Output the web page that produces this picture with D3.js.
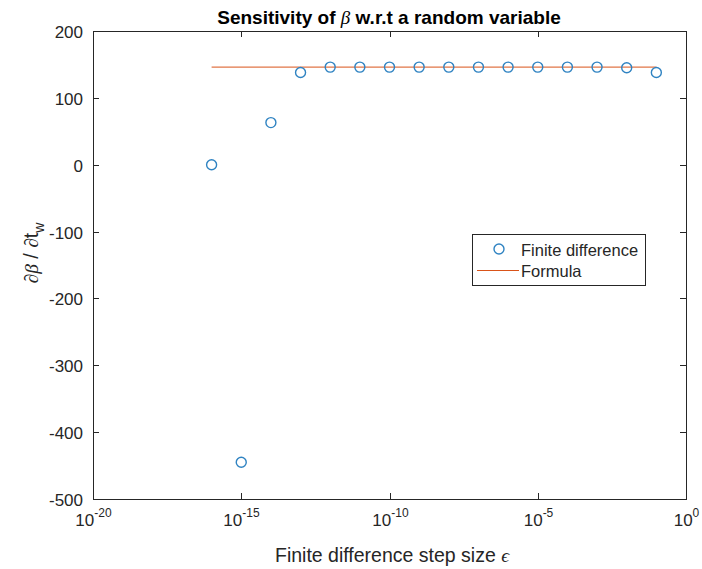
<!DOCTYPE html>
<html>
<head>
<meta charset="utf-8">
<script src="https://cdn.jsdelivr.net/npm/d3@7"></script>
<style>
  body { margin: 0; background: #fff; }
  svg text { font-family: "Liberation Sans", Arial, Helvetica, sans-serif; fill: #262626; }
</style>
</head>
<body>
<svg id="chart" width="702" height="569"></svg>
<script>
// Finite-difference step sizes (epsilon) and the resulting sensitivity estimates
const stepExponents = [-16, -15, -14, -13, -12, -11, -10, -9, -8, -7, -6, -5, -4, -3, -2, -1];
const finiteDifference = [0, -445, 63, 138, 146, 146, 146, 146, 146, 146, 146, 146, 146, 146, 145, 138];
// Analytic derivative from the formula (constant over the step range)
const formulaValue = 146;
const xTickExponents = [-20, -15, -10, -5, 0];
const yTicks = [-500, -400, -300, -200, -100, 0, 100, 200];

const svg = d3.select("#chart");
const plotLeft = 93, plotRight = 686, plotTop = 31, plotBottom = 499;

const x = d3.scaleLog().domain([1e-20, 1]).range([plotLeft, plotRight]);
const y = d3.scaleLinear().domain([-500, 200]).range([plotBottom, plotTop]);

const axisColor = "#262626";
const serif = "'Liberation Serif', 'DejaVu Serif', serif";
const tickFont = 17;

// Axes box
svg.append("rect")
  .attr("x", plotLeft + 0.5).attr("y", plotTop + 0.5)
  .attr("width", plotRight - plotLeft).attr("height", plotBottom - plotTop)
  .attr("fill", "none").attr("stroke", axisColor).attr("stroke-width", 1);

// Y ticks (inside, on both sides) and labels
const tickLen = 6;
yTicks.forEach(v => {
  const py = Math.round(y(v)) + 0.5;
  svg.append("line").attr("x1", plotLeft).attr("x2", plotLeft + tickLen).attr("y1", py).attr("y2", py)
    .attr("stroke", axisColor);
  svg.append("line").attr("x1", plotRight - tickLen).attr("x2", plotRight).attr("y1", py).attr("y2", py)
    .attr("stroke", axisColor);
  svg.append("text").attr("x", plotLeft - 10).attr("y", py + 6)
    .attr("text-anchor", "end").attr("font-size", tickFont).text(v);
});

// X ticks (decades) and 10^n labels
xTickExponents.forEach(e => {
  const px = Math.round(x(Math.pow(10, e))) + 0.5;
  svg.append("line").attr("x1", px).attr("x2", px).attr("y1", plotBottom).attr("y2", plotBottom - tickLen)
    .attr("stroke", axisColor);
  svg.append("line").attr("x1", px).attr("x2", px).attr("y1", plotTop).attr("y2", plotTop + tickLen)
    .attr("stroke", axisColor);
  const t = svg.append("text").attr("x", px).attr("y", 526)
    .attr("text-anchor", "middle").attr("font-size", tickFont);
  t.append("tspan").text("10");
  t.append("tspan").attr("dy", -9).attr("font-size", 12).text(e);
});

// Formula line
svg.append("line")
  .attr("x1", x(Math.pow(10, stepExponents[0])))
  .attr("x2", x(Math.pow(10, stepExponents[stepExponents.length - 1])))
  .attr("y1", y(formulaValue)).attr("y2", y(formulaValue))
  .attr("stroke", "#D95319").attr("stroke-width", 1);

// Finite difference markers
svg.selectAll("circle.fd")
  .data(stepExponents.map((e, i) => ({ e, v: finiteDifference[i] })))
  .join("circle")
  .attr("class", "fd")
  .attr("cx", d => x(Math.pow(10, d.e)))
  .attr("cy", d => y(d.v))
  .attr("r", 5)
  .attr("fill", "none")
  .attr("stroke", "#2f83c2")
  .attr("stroke-width", 1.4);

// Title
const title = svg.append("text").attr("x", 389).attr("y", 24)
  .attr("text-anchor", "middle").attr("font-size", 19).attr("font-weight", "bold")
  .attr("fill", "#000").style("fill", "#000");
title.append("tspan").text("Sensitivity of ");
title.append("tspan").attr("font-family", serif)
  .attr("font-style", "italic").attr("font-weight", "normal").text("β");
title.append("tspan").text(" w.r.t a random variable");

// X label
const xl = svg.append("text").attr("x", 392).attr("y", 562)
  .attr("text-anchor", "middle").attr("font-size", 19.5);
xl.append("tspan").text("Finite difference step size ");
xl.append("tspan").attr("font-family", serif).attr("font-style", "italic").text("ϵ");

// Y label
const yl = svg.append("text").attr("transform", "translate(38,253) rotate(-90)")
  .attr("text-anchor", "middle").attr("font-size", 19.5);
yl.append("tspan").attr("font-family", serif).attr("font-style", "italic").text("∂β");
yl.append("tspan").text(" / ");
yl.append("tspan").attr("font-family", serif).attr("font-style", "italic").text("∂");
yl.append("tspan").text("t");
yl.append("tspan").attr("dy", 6).attr("font-size", 14).text("w");

// Legend
const lg = svg.append("g");
lg.append("rect").attr("x", 472.5).attr("y", 234.5).attr("width", 173).attr("height", 51)
  .attr("fill", "#fff").attr("stroke", axisColor).attr("stroke-width", 1);
lg.append("circle").attr("cx", 499).attr("cy", 249).attr("r", 5)
  .attr("fill", "none").attr("stroke", "#2f83c2").attr("stroke-width", 1.4);
lg.append("text").attr("x", 521).attr("y", 256).attr("font-size", 16.5).text("Finite difference");
lg.append("line").attr("x1", 477).attr("x2", 519).attr("y1", 270.5).attr("y2", 270.5)
  .attr("stroke", "#D95319").attr("stroke-width", 1);
lg.append("text").attr("x", 521).attr("y", 277).attr("font-size", 16.5).text("Formula");
</script>
</body>
</html>
